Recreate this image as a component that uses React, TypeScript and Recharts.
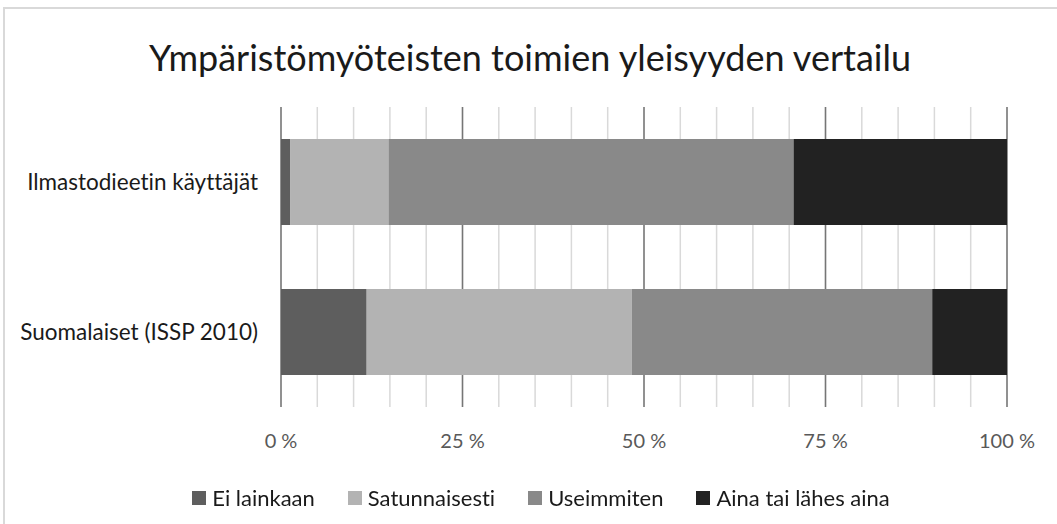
import React from 'react';
import { BarChart, Bar, XAxis, YAxis, CartesianGrid } from 'recharts';

const categories = ['Ilmastodieetin käyttäjät', 'Suomalaiset (ISSP 2010)'];
const eiLainkaan = [1.3, 11.8];
const satunnaisesti = [13.5, 36.5];
const useimmiten = [55.8, 41.4];
const ainaTaiLahes = [29.4, 10.3];

const seriesNames = ['Ei lainkaan', 'Satunnaisesti', 'Useimmiten', 'Aina tai lähes aina'];
const seriesKeys = ['ei', 'sat', 'use', 'aina'];
const seriesColors = ['#5e5e5e', '#b3b3b3', '#898989', '#222222'];

const minorTicks = [0, 5, 10, 15, 20, 25, 30, 35, 40, 45, 50, 55, 60, 65, 70, 75, 80, 85, 90, 95, 100];
const majorTicks = [0, 25, 50, 75, 100];

const data = categories.map((name, i) => ({
  name,
  ei: eiLainkaan[i],
  sat: satunnaisesti[i],
  use: useimmiten[i],
  aina: ainaTaiLahes[i],
}));

const FONT = 'Lato, "Open Sans", sans-serif';

export default function App() {
  // darker lines at every 25 %
  const majorGen = ({ xAxis, offset }: any) =>
    majorTicks.map(t =>
      xAxis && typeof xAxis.scale === 'function'
        ? xAxis.scale(t)
        : offset.left + (t / 100) * offset.width
    );

  return (
    <div
      style={{
        position: 'fixed',
        left: 0,
        top: 0,
        width: 1057,
        height: 524,
        background: '#fff',
        fontFamily: FONT,
        fontVariantLigatures: 'none',
      }}
    >
      <div
        style={{
          position: 'absolute',
          left: 3,
          top: 7,
          width: 1054,
          height: 517,
          borderLeft: '2px solid #d9d9d9',
          borderTop: '2px solid #d9d9d9',
          boxSizing: 'border-box',
        }}
      />
      <div
        style={{
          position: 'absolute',
          left: 0,
          top: 35,
          width: 1060,
          textAlign: 'center',
          fontSize: 36,
          color: '#1a1a1a',
          lineHeight: '44px',
        }}
      >
        Ympäristömyöteisten toimien yleisyyden vertailu
      </div>
      <div style={{ position: 'absolute', left: 0, top: 0 }}>
        <BarChart
          width={1057}
          height={524}
          data={data}
          layout="vertical"
          margin={{ top: 107, right: 50, left: 0, bottom: 77 }}
          barSize={86}
          style={{ fontVariantLigatures: 'none' }}
        >
          <CartesianGrid horizontal={false} stroke="#d9d9d9" strokeWidth={1.5} />
          <CartesianGrid
            horizontal={false}
            stroke="#767676"
            strokeWidth={1.5}
            verticalCoordinatesGenerator={majorGen}
          />
          <XAxis
            type="number"
            domain={[0, 100]}
            ticks={minorTicks}
            interval={0}
            height={40}
            axisLine={false}
            tickLine={false}
            tickMargin={21}
            tick={{ fill: '#595959', fontSize: 20, fontFamily: FONT }}
            tickFormatter={(v: number) => (majorTicks.includes(v) ? `${v} %` : '')}
          />
          <YAxis
            type="category"
            dataKey="name"
            width={281}
            axisLine={false}
            tickLine={false}
            tickMargin={17}
            tick={{ fill: '#1a1a1a', fontSize: 22.5, fontFamily: FONT }}
          />
          {seriesKeys.map((k, i) => (
            <Bar key={k} dataKey={k} name={seriesNames[i]} stackId="a" fill={seriesColors[i]} isAnimationActive={false} />
          ))}
        </BarChart>
      </div>
      <div
        style={{
          position: 'absolute',
          left: 0,
          top: 484,
          width: 1082,
          display: 'flex',
          justifyContent: 'center',
          gap: 33,
          fontSize: 22,
          color: '#1a1a1a',
          lineHeight: '28px',
        }}
      >
        {seriesNames.map((n, i) => (
          <div key={n} style={{ display: 'flex', alignItems: 'center' }}>
            <span style={{ display: 'inline-block', width: 14, height: 14, background: seriesColors[i], marginRight: 6 }} />
            <span>{n}</span>
          </div>
        ))}
      </div>
    </div>
  );
}
